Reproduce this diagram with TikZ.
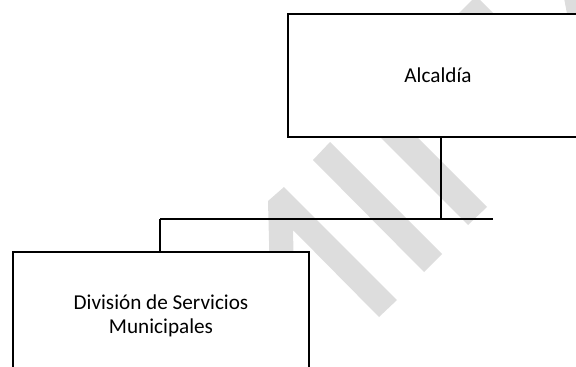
\documentclass[tikz,border=0pt]{standalone}
\usepackage{fontspec}
\setmainfont{Carlito}
\definecolor{wmgrey}{HTML}{DDDDDD}
\begin{document}
\begin{tikzpicture}[x=1pt,y=-1pt,
  orgbox/.style={draw=black,line width=1.4pt,fill=white,align=center,
    font=\fontsize{21.2}{23.5}\selectfont,inner sep=0pt},
  link/.style={draw=black,line width=1.3pt},
  wm/.style={fill=wmgrey,draw=none}]
\useasboundingbox (0,0) rectangle (576,367);
\clip (0,0) rectangle (576,367);
% watermark
\fill[wm] (271,320) -- (268,201) -- (284,187) -- (397,300) -- (379,317) -- (293,230) -- (295,320) -- cycle;
\fill[wm] (313,160) -- (330,142) -- (442,254) -- (424,272) -- cycle;
\fill[wm] (468,225) -- (487,207) -- (380,100) -- (361,118) -- cycle;
\fill[wm] (456,40) -- (456,16) -- (476,-4) -- (497,17) -- (497,40) -- cycle;
\fill[wm] (564,-2) -- (580,-2) -- (580,40) -- (572,40) -- cycle;
% boxes
\node[orgbox,minimum width=300pt,minimum height=123pt] (top) at (438,75.5) {Alcaldía};
\node[orgbox,minimum width=296pt,minimum height=128pt] (low) at (161,316) {División de Servicios\\Municipales};
% connectors
\coordinate (busL) at (160,219);
\coordinate (busR) at (493,219);
\coordinate (junc) at (441,219);
\draw[link] (junc |- top.south) -- (junc);
\draw[link] (busL) -- (busR);
\draw[link] (busL) -- (busL |- low.north);
\end{tikzpicture}
\end{document}
